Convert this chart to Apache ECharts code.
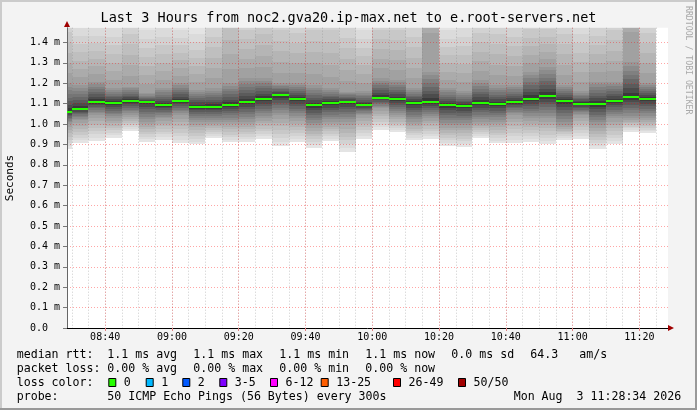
<!DOCTYPE html>
<html>
<head>
    <meta charset="utf-8">
    <title>Last 3 Hours from noc2.gva20.ip-max.net to e.root-servers.net</title>
    <script src="https://cdn.jsdelivr.net/npm/echarts@6.0.0/dist/echarts.min.js"></script>
    <style>
        html, body { margin: 0; padding: 0; background: #f3f3f3; }
        #main { width: 697px; height: 410px; }
    </style>
</head>
<body>
<div id="main"></div>
<script type="text/javascript">

    // start of each 5 minute bin
    var binStart = ['08:25', '08:30', '08:35', '08:40', '08:45', '08:50', '08:55',
        '09:00', '09:05', '09:10', '09:15', '09:20', '09:25', '09:30', '09:35', '09:40', '09:45', '09:50', '09:55',
        '10:00', '10:05', '10:10', '10:15', '10:20', '10:25', '10:30', '10:35', '10:40', '10:45', '10:50', '10:55',
        '11:00', '11:05', '11:10', '11:15', '11:20'];

    // rtt in ms: lowest ping, lower quartile, median, upper quartile, highest ping
    var rttMin = [0.877, 0.905, 0.917, 0.933, 0.966, 0.912, 0.922, 0.905, 0.900, 0.933, 0.910, 0.912,
        0.926, 0.894, 0.910, 0.884, 0.917, 0.864, 0.926, 0.971, 0.959, 0.922, 0.926, 0.894,
        0.889, 0.933, 0.905, 0.905, 0.912, 0.900, 0.922, 0.926, 0.877, 0.900, 0.962, 0.954];
    var rttLow = [1.000, 1.020, 1.044, 1.028, 1.044, 1.011, 1.028, 1.044, 1.011, 1.011, 1.011, 1.011,
        1.028, 1.044, 1.028, 0.995, 1.011, 1.011, 1.044, 1.077, 1.044, 1.011, 1.028, 0.995,
        0.995, 1.011, 1.011, 1.044, 1.028, 1.028, 0.995, 1.044, 0.995, 1.028, 1.028, 1.028];
    var rttMedian = [1.059, 1.074, 1.108, 1.103, 1.113, 1.108, 1.093, 1.113, 1.085, 1.085, 1.093, 1.108,
        1.123, 1.142, 1.123, 1.093, 1.103, 1.108, 1.093, 1.129, 1.123, 1.103, 1.108, 1.093,
        1.088, 1.103, 1.098, 1.108, 1.123, 1.137, 1.113, 1.098, 1.098, 1.113, 1.132, 1.123];
    var rttHigh = [1.200, 1.191, 1.208, 1.175, 1.183, 1.150, 1.175, 1.200, 1.167, 1.175, 1.200, 1.225,
        1.225, 1.200, 1.200, 1.190, 1.175, 1.159, 1.160, 1.225, 1.215, 1.175, 1.257, 1.175,
        1.160, 1.215, 1.190, 1.190, 1.257, 1.281, 1.190, 1.160, 1.208, 1.208, 1.305, 1.200];
    var rttMax = [1.600, 1.510, 1.508, 1.512, 1.598, 1.503, 1.512, 1.498, 1.480, 1.576, 1.769, 1.604,
        1.662, 1.617, 1.591, 1.623, 1.630, 1.582, 1.502, 1.604, 1.609, 1.576, 2.780, 1.500,
        1.515, 1.584, 1.595, 1.571, 1.587, 1.574, 1.595, 1.538, 1.565, 1.613, 2.490, 1.591];

    var lossLabels = ['0', '1', '2', '3-5', '6-12', '13-25', '26-49', '50/50'];
    var lossColors = ['#26ff00', '#00b8ff', '#0059ff', '#7e00ff', '#ff00ff', '#ff5e00', '#ff0000', '#a10000'];

    var medianRow = ['median rtt:', '1.1 ms avg', '1.1 ms max', '1.1 ms min', '1.1 ms now', '0.0 ms sd', '64.3', 'am/s'];
    var lossRow = ['packet loss:', '0.00 % avg', '0.00 % max', '0.00 % min', '0.00 % now'];

    var MONO = '"DejaVu Sans Mono", monospace';

    function toMin(s) {
        var p = s.split(':');
        return +p[0] * 60 + +p[1];
    }
    function pad(n) { return (n < 10 ? '0' : '') + n; }

    // graph spans 08:28:34 .. 11:28:34
    var tStart = 8 * 60 + 28 + 34 / 60;
    var tEnd = tStart + 180;

    var gLeft = 67, gRight = 29, gTop = 27.7, gBottom = 82;
    var pxPerMin = (697 - gLeft - gRight) / 180;
    // second grid only for the 5 minute dotted lines, aligned on whole bins
    var minorFrom = 510, minorTo = 685;
    var g2Left = gLeft + (minorFrom - tStart) * pxPerMin;
    var g2Right = 697 - (g2Left + (minorTo - minorFrom) * pxPerMin);

    var smokeData = binStart.map(function (s, i) {
        return [toMin(s), rttMin[i], rttLow[i], rttMedian[i], rttHigh[i], rttMax[i]];
    });
    var medianData = binStart.map(function (s, i) {
        return [toMin(s), rttMedian[i]];
    });

    var STEPS = 8;
    var ranks = [0, 0.25, 0.5, 0.75, 1];

    function renderSmoke(params, api) {
        var t = api.value(0);
        var x0 = Math.round(api.coord([t, 0])[0]);
        var x1 = Math.round(api.coord([t + 5, 0])[0]);
        var q = [api.value(1), api.value(2), api.value(3), api.value(4), api.value(5)];
        var children = [];
        for (var s = 0; s < 4; s++) {
            for (var k = 0; k < STEPS; k++) {
                var va = q[s] + (q[s + 1] - q[s]) * k / STEPS;
                var vb = q[s] + (q[s + 1] - q[s]) * (k + 1) / STEPS;
                var r = ranks[s] + (ranks[s + 1] - ranks[s]) * (k + 0.5) / STEPS;
                var d = Math.abs(r - 0.5) * 2;
                var g = Math.round(44 + 188 * Math.pow(d, 0.75));
                var ya = Math.round(api.coord([t, va])[1]);
                var yb = Math.round(api.coord([t, vb])[1]);
                if (ya - yb <= 0) continue;
                children.push({
                    type: 'rect',
                    shape: { x: x0, y: yb, width: x1 - x0, height: ya - yb },
                    style: { fill: 'rgb(' + g + ',' + g + ',' + g + ')' }
                });
            }
        }
        return { type: 'group', children: children };
    }

    function renderMedian(params, api) {
        var t = api.value(0);
        var p0 = api.coord([t, api.value(1)]);
        var p1 = api.coord([t + 5, api.value(1)]);
        return {
            type: 'rect',
            shape: { x: Math.round(p0[0]), y: Math.round(p0[1]) - 1, width: Math.round(p1[0]) - Math.round(p0[0]), height: 2 },
            style: { fill: lossColors[0] }
        };
    }

    // legend texts and boxes under the graph
    var graphic = [];
    function addText(x, y, text) {
        graphic.push({
            type: 'text', x: x, y: y,
            style: { text: text, font: '11.6px ' + MONO, fill: '#000', textAlign: 'left', textVerticalAlign: 'middle' }
        });
    }
    var colX = [16.7, 107.3, 193.3, 279.3, 365.3, 451.3, 530.3, 579.3];
    medianRow.forEach(function (t, i) { addText(colX[i], 354.5, t); });
    lossRow.forEach(function (t, i) { addText(colX[i], 368.5, t); });
    addText(16.7, 382.5, 'loss color:');
    var boxX = [108.3, 145.7, 182.3, 219.3, 270, 320.7, 393, 458];
    lossLabels.forEach(function (t, i) {
        graphic.push({
            type: 'rect',
            shape: { x: boxX[i] + 0.5, y: 378.5, width: 7, height: 8 },
            style: { fill: lossColors[i], stroke: '#000', lineWidth: 1 }
        });
        addText(boxX[i] + 15.5, 382.5, t);
    });
    addText(16.7, 396.5, 'probe:');
    addText(107.3, 396.5, '50 ICMP Echo Pings (56 Bytes) every 300s');
    addText(513.7, 396.5, 'Mon Aug  3 11:28:34 2026');

    graphic.push({
        type: 'text', x: 10, y: 178, rotation: Math.PI / 2,
        style: { text: 'Seconds', font: '11px ' + MONO, fill: '#000', textAlign: 'center', textVerticalAlign: 'middle' }
    });
    graphic.push({
        type: 'text', x: 688, y: 6, rotation: -Math.PI / 2,
        style: { text: 'RRDTOOL / TOBI OETIKER', font: '8.2px ' + MONO, fill: '#a8a8a8', textAlign: 'left', textVerticalAlign: 'middle' }
    });
    // axis arrows
    graphic.push({ type: 'polygon', z: 10, shape: { points: [[668, 325], [674, 328], [668, 331]] }, style: { fill: '#a00000' } });
    graphic.push({ type: 'polygon', z: 10, shape: { points: [[64, 27], [67, 21], [70, 27]] }, style: { fill: '#a00000' } });
    // frame
    graphic.push({ type: 'rect', shape: { x: 0, y: 0, width: 697, height: 2 }, style: { fill: '#cbcbcb' } });
    graphic.push({ type: 'rect', shape: { x: 0, y: 0, width: 2, height: 410 }, style: { fill: '#cbcbcb' } });
    graphic.push({ type: 'rect', shape: { x: 0, y: 408, width: 697, height: 2 }, style: { fill: '#999' } });
    graphic.push({ type: 'rect', shape: { x: 695, y: 0, width: 2, height: 410 }, style: { fill: '#999' } });

    var majorGrid = { color: 'rgba(255,0,0,0.35)', width: 1, type: [1, 2] };
    var minorGrid = { color: 'rgba(128,128,128,0.4)', width: 1, type: [1, 2] };

    var myChart = echarts.init(document.getElementById('main'), null, { renderer: 'canvas' });
    var option = {
        backgroundColor: '#f3f3f3',
        animation: false,
        title: {
            text: 'Last 3 Hours from noc2.gva20.ip-max.net to e.root-servers.net',
            left: 'center', top: 11, padding: 0,
            textStyle: { fontFamily: MONO, fontSize: 13.5, fontWeight: 'normal', color: '#000' }
        },
        grid: [
            { left: gLeft, right: gRight, top: gTop, bottom: gBottom, show: true, backgroundColor: '#fff', borderWidth: 0 },
            { left: g2Left, right: g2Right, top: gTop, bottom: gBottom }
        ],
        xAxis: [{
            type: 'value', gridIndex: 0, min: tStart, max: tEnd, splitNumber: 9, minInterval: 20, maxInterval: 20, z: 3,
            axisLine: { lineStyle: { color: '#000', width: 1 } },
            axisTick: { length: 3, lineStyle: { color: '#e08080' } },
            axisLabel: {
                showMinLabel: false, showMaxLabel: false, margin: 4,
                fontFamily: MONO, fontSize: 10, color: '#000',
                formatter: function (v) { var m = Math.round(v); return pad(Math.floor(m / 60)) + ':' + pad(m % 60); }
            },
            splitLine: { show: true, showMinLine: false, showMaxLine: false, lineStyle: majorGrid }
        }, {
            type: 'value', gridIndex: 1, min: minorFrom, max: minorTo, interval: 5, z: 2,
            axisLine: { show: false }, axisTick: { show: false }, axisLabel: { show: false },
            splitLine: { show: true, lineStyle: minorGrid }
        }],
        yAxis: [{
            type: 'value', gridIndex: 0, min: 0, max: 1.472, interval: 0.1, z: 3,
            axisLine: { show: true, lineStyle: { color: '#666', width: 1 } },
            axisTick: { show: true, length: 4, lineStyle: { color: '#777' } },
            axisLabel: {
                showMaxLabel: false, margin: 7,
                fontFamily: MONO, fontSize: 10, color: '#000',
                formatter: function (v) { return v === 0 ? '0.0  ' : v.toFixed(1) + ' m'; }
            },
            splitLine: { show: true, showMinLine: false, showMaxLine: false, lineStyle: majorGrid }
        }, {
            type: 'value', gridIndex: 1, min: 0, max: 1, show: false
        }],
        graphic: graphic,
        series: [{
            type: 'custom', name: 'smoke', xAxisIndex: 0, yAxisIndex: 0, z: 1, clip: true,
            renderItem: renderSmoke, data: smokeData, silent: true
        }, {
            type: 'custom', name: 'median rtt', xAxisIndex: 0, yAxisIndex: 0, z: 5, clip: true,
            renderItem: renderMedian, data: medianData, silent: true
        }]
    };
    myChart.setOption(option);

</script>
</body>
</html>
